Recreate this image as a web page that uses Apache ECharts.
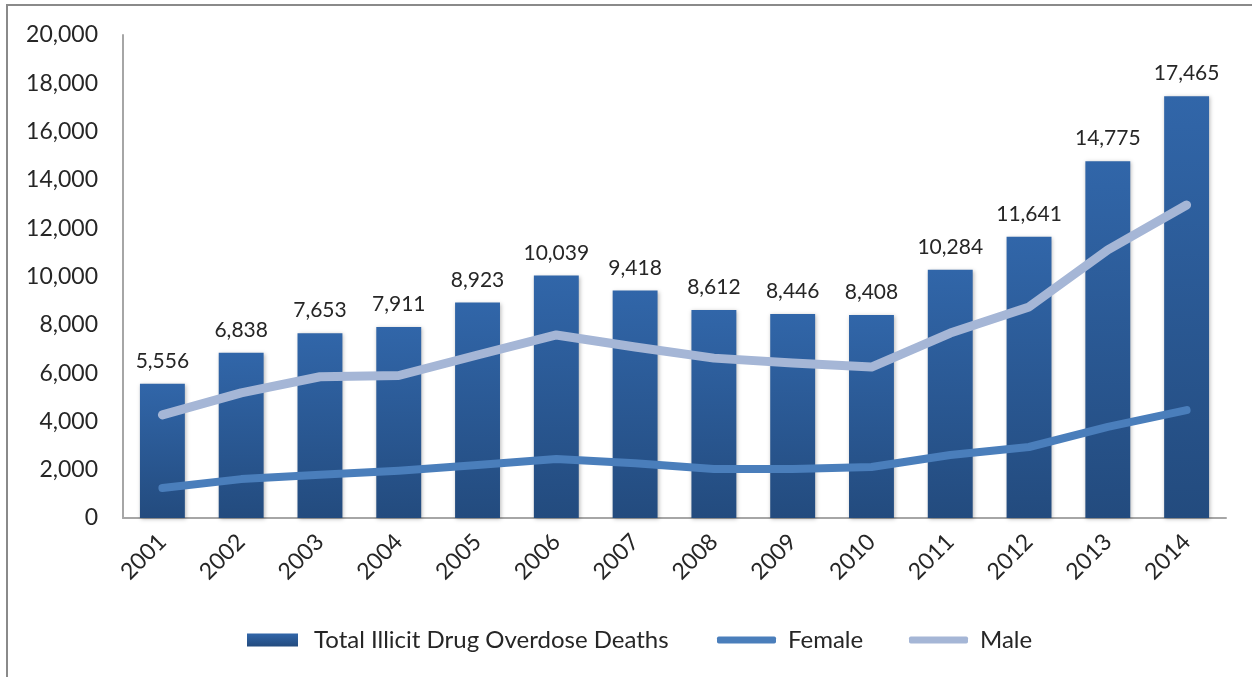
<!DOCTYPE html>
<html>
<head>
<meta charset="utf-8">
<script src="https://cdn.jsdelivr.net/npm/echarts@6/dist/echarts.min.js"></script>
<style>
  html, body { margin: 0; padding: 0; background: #fff; }
  #chart { width: 1252px; height: 677px; }
</style>
</head>
<body>
<div id="chart"></div>
<script>
// Illicit drug overdose deaths, United States, 2001-2014
const years = ['2001','2002','2003','2004','2005','2006','2007','2008','2009','2010','2011','2012','2013','2014'];
const totalDeaths = [5556, 6838, 7653, 7911, 8923, 10039, 9418, 8612, 8446, 8408, 10284, 11641, 14775, 17465];
const femaleDeaths = [1240, 1610, 1790, 1960, 2190, 2440, 2270, 2030, 2030, 2110, 2610, 2940, 3770, 4470];
const maleDeaths = [4270, 5180, 5850, 5900, 6750, 7580, 7080, 6620, 6420, 6250, 7660, 8740, 11100, 12960];
const yTicks = { min: 0, max: 20000, interval: 2000 };

const FONT = 'Lato, "Open Sans", sans-serif';
const TEXT = '#262626';

const barGradient = new echarts.graphic.LinearGradient(0, 0, 0, 1, [
  { offset: 0, color: '#3166a9' },
  { offset: 1, color: '#234b7e' }
]);

const legendText = { fontFamily: FONT, fontSize: 24, color: TEXT, lineHeight: 28 };

const chart = echarts.init(document.getElementById('chart'), null, { renderer: 'canvas' });

chart.setOption({
  animation: false,
  backgroundColor: '#fff',
  textStyle: { fontFamily: FONT },
  grid: { left: 123, right: 26, top: 35, bottom: 159, containLabel: false },
  graphic: [{
    type: 'rect',
    shape: { x: 7, y: 5, width: 1300, height: 700 },
    style: { fill: 'none', stroke: '#8a8a8a', lineWidth: 2 },
    silent: true
  }],
  legend: [
    {
      data: ['Total Illicit Drug Overdose Deaths'],
      left: 242, top: 621,
      itemWidth: 51, itemHeight: 13,
      icon: 'rect',
      textStyle: Object.assign({ padding: [0, 0, 0, 11] }, legendText)
    },
    {
      data: ['Female'],
      left: 712, top: 621,
      itemWidth: 59, itemHeight: 7,
      icon: 'roundRect',
      textStyle: Object.assign({ padding: [0, 0, 0, 7] }, legendText)
    },
    {
      data: ['Male'],
      left: 904, top: 621,
      itemWidth: 59, itemHeight: 7,
      icon: 'roundRect',
      textStyle: Object.assign({ padding: [0, 0, 0, 7] }, legendText)
    }
  ],
  xAxis: {
    type: 'category',
    data: years,
    boundaryGap: true,
    axisLine: { show: true, lineStyle: { color: '#a6a6a6', width: 2 } },
    axisTick: { show: false },
    axisLabel: {
      rotate: 45, margin: 20, interval: 0,
      fontFamily: FONT, fontSize: 23, color: TEXT
    }
  },
  yAxis: {
    type: 'value',
    min: yTicks.min, max: yTicks.max, interval: yTicks.interval,
    splitLine: { show: false },
    axisLine: { show: true, lineStyle: { color: '#a6a6a6', width: 2 } },
    axisTick: { show: false },
    axisLabel: {
      margin: 25, fontFamily: FONT, fontSize: 23, color: TEXT,
      formatter: v => v.toLocaleString('en-US')
    }
  },
  series: [
    {
      name: 'Total Illicit Drug Overdose Deaths',
      type: 'bar',
      data: totalDeaths,
      barWidth: '57%',
      itemStyle: {
        color: barGradient,
        shadowColor: 'rgba(0,0,0,0.28)',
        shadowBlur: 4, shadowOffsetX: 1, shadowOffsetY: 1
      },
      label: {
        show: true, position: 'top', distance: 12,
        fontFamily: FONT, fontSize: 21, color: TEXT,
        formatter: p => p.value.toLocaleString('en-US')
      },
      z: 2
    },
    {
      name: 'Female',
      type: 'line',
      data: femaleDeaths,
      showSymbol: false, symbol: 'none',
      lineStyle: { color: '#4a7ebb', width: 8, cap: 'round', join: 'round' },
      itemStyle: { color: '#4a7ebb' },
      z: 3
    },
    {
      name: 'Male',
      type: 'line',
      data: maleDeaths,
      showSymbol: false, symbol: 'none',
      lineStyle: { color: '#a5b6d6', width: 9, cap: 'round', join: 'round' },
      itemStyle: { color: '#a5b6d6' },
      z: 3
    }
  ]
});
</script>
</body>
</html>
